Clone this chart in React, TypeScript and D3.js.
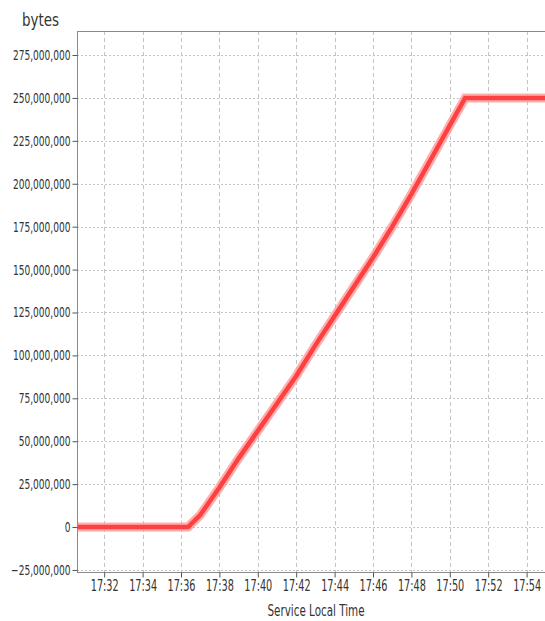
import { useEffect, useRef } from "react";
import * as d3 from "d3";

// sample times (HH:MM:SS) and cumulative bytes
const times = [
  "17:30:35", "17:33:00", "17:35:00", "17:36:00", "17:36:22", "17:37:00",
  "17:38:00", "17:39:00", "17:40:00", "17:41:00", "17:42:00", "17:43:00",
  "17:44:00", "17:45:00", "17:46:00", "17:47:00", "17:48:00", "17:49:00",
  "17:50:00", "17:50:48", "17:52:00", "17:54:00", "17:55:10",
];
const bytes = [
  0, 0, 0, 0, 0, 7e6,
  23e6, 40e6, 56e6, 72e6, 88e6, 106e6,
  123e6, 140e6, 157e6, 175e6, 194e6, 214e6,
  234e6, 250e6, 250e6, 250e6, 250e6,
];
const yTicks = [
  -25e6, 0, 25e6, 50e6, 75e6, 100e6, 125e6, 150e6, 175e6, 200e6, 225e6,
  250e6, 275e6,
];
const xTickTimes = [
  "17:32:00", "17:34:00", "17:36:00", "17:38:00", "17:40:00", "17:42:00",
  "17:44:00", "17:46:00", "17:48:00", "17:50:00", "17:52:00", "17:54:00",
];

const FONT = "'DejaVu Sans Condensed', 'DejaVu Sans', sans-serif";

export default function App() {
  const ref = useRef<SVGSVGElement>(null);

  useEffect(() => {
    if (!ref.current) return;
    const svg = d3.select(ref.current);
    svg.selectAll("*").remove();

    const width = 545;
    const height = 621;
    const m = { top: 31, left: 77, bottom: 572, right: 549 };

    const parse = d3.timeParse("%H:%M:%S");
    const data = times.map((t, i) => ({ t: parse(t) as Date, v: bytes[i] }));

    const x = d3
      .scaleTime()
      .domain([parse("17:30:35") as Date, parse("17:55:10") as Date])
      .range([m.left, m.right]);
    const y = d3
      .scaleLinear()
      .domain([-26.2e6, 289e6])
      .range([m.bottom, m.top]);

    svg.attr("width", width).attr("height", height);

    const xTicks = xTickTimes.map((t) => parse(t) as Date);

    // grid
    svg
      .append("g")
      .selectAll("line")
      .data(yTicks)
      .join("line")
      .attr("x1", m.left)
      .attr("x2", m.right)
      .attr("y1", (d) => Math.round(y(d)) + 0.5)
      .attr("y2", (d) => Math.round(y(d)) + 0.5)
      .attr("stroke", "#c4c4c4")
      .attr("stroke-dasharray", "2,2");
    svg
      .append("g")
      .selectAll("line")
      .data(xTicks)
      .join("line")
      .attr("x1", (d) => Math.round(x(d)) + 0.5)
      .attr("x2", (d) => Math.round(x(d)) + 0.5)
      .attr("y1", m.top)
      .attr("y2", m.bottom)
      .attr("stroke", "#c4c4c4")
      .attr("stroke-dasharray", "4,3");

    // plot border (top)
    svg
      .append("line")
      .attr("x1", m.left)
      .attr("x2", m.right)
      .attr("y1", m.top + 0.5)
      .attr("y2", m.top + 0.5)
      .attr("stroke", "#8a8a8a");

    // series
    svg
      .append("clipPath")
      .attr("id", "plot-clip")
      .append("rect")
      .attr("x", m.left + 1)
      .attr("y", m.top)
      .attr("width", m.right - m.left)
      .attr("height", m.bottom - m.top);

    const line = d3
      .line<{ t: Date; v: number }>()
      .x((d) => x(d.t))
      .y((d) => y(d.v));

    const series = svg.append("g").attr("clip-path", "url(#plot-clip)");
    series
      .append("path")
      .datum(data)
      .attr("d", line)
      .attr("fill", "none")
      .attr("stroke", "#ffa0a0")
      .attr("stroke-opacity", 0.85)
      .attr("stroke-width", 9)
      .attr("stroke-linecap", "square")
      .attr("stroke-linejoin", "miter");
    series
      .append("path")
      .datum(data)
      .attr("d", line)
      .attr("fill", "none")
      .attr("stroke", "#ff4040")
      .attr("stroke-width", 4.5)
      .attr("stroke-linecap", "square");

    // axes
    const yAxis = svg
      .append("g")
      .attr("transform", `translate(${m.left + 0.5},0)`)
      .call(
        d3
          .axisLeft(y)
          .tickValues(yTicks)
          .tickSize(5)
          .tickPadding(0)
          .tickFormat((d) => d3.format(",")(d as number))
      );
    yAxis.select(".domain").attr("stroke", "#8a8a8a").attr("d", `M0,${m.top}V${m.bottom}`);
    yAxis.selectAll(".tick line").attr("stroke", "#555");
    yAxis
      .selectAll(".tick text")
      .attr("x", -7 / 0.72)
      .attr("transform", "scale(0.72,1)")
      .attr("fill", "#333")
      .style("font-family", FONT)
      .style("font-size", "14px");

    const xAxis = svg
      .append("g")
      .attr("transform", `translate(0,${m.bottom + 0.5})`)
      .call(
        d3
          .axisBottom(x)
          .tickValues(xTicks)
          .tickSize(5)
          .tickPadding(0)
          .tickFormat((d) => d3.timeFormat("%H:%M")(d as Date))
      );
    xAxis.select(".domain").attr("stroke", "#8a8a8a").attr("d", `M${m.left},0H${m.right}`);
    xAxis.selectAll(".tick line").attr("stroke", "#555");
    xAxis
      .selectAll(".tick text")
      .attr("y", 8)
      .attr("transform", "scale(0.72,1)")
      .attr("fill", "#333")
      .style("font-family", FONT)
      .style("font-size", "15px");

    // titles
    svg
      .append("text")
      .attr("transform", "translate(22,26) scale(0.88,1)")
      .attr("fill", "#333")
      .style("font-family", FONT)
      .style("font-size", "17px")
      .text("bytes");

    svg
      .append("text")
      .attr("transform", "translate(316,616) scale(0.72,1)")
      .attr("text-anchor", "middle")
      .attr("fill", "#333")
      .style("font-family", FONT)
      .style("font-size", "16px")
      .text("Service Local Time");
  }, []);

  return (
    <svg
      ref={ref}
      style={{ position: "absolute", left: 0, top: 0, background: "#fff" }}
    ></svg>
  );
}
